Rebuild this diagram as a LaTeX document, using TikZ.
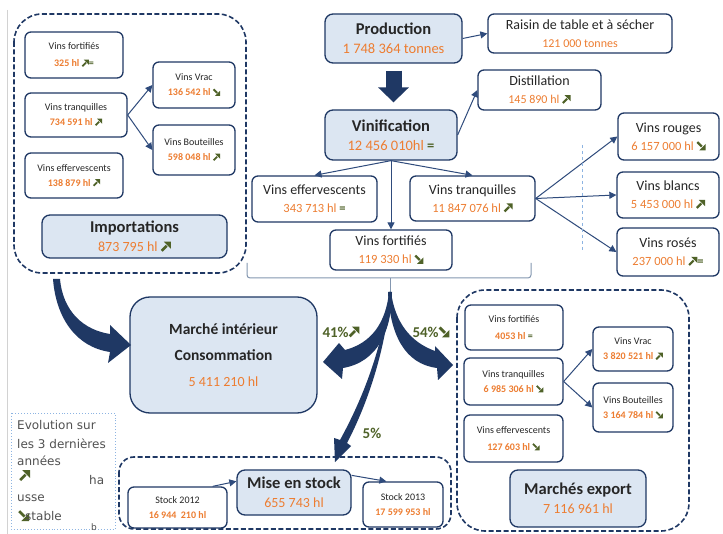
\documentclass[tikz,border=0pt]{standalone}
\usepackage{fontspec}
\setmainfont{Carlito}
\newfontfamily\legfont{DejaVu Sans}
\usetikzlibrary{arrows.meta,calc}
\definecolor{navy}{HTML}{1F3864}
\definecolor{lfill}{HTML}{DCE6F2}
\definecolor{org}{HTML}{ED7D31}
\definecolor{grn}{HTML}{4F6228}
\definecolor{txt}{HTML}{262626}
\definecolor{conn}{HTML}{2F4B7C}
\definecolor{brc}{HTML}{8497B0}
\definecolor{legc}{HTML}{8DB4E2}
\newcommand\iup{\tikz[x=0.72em,y=0.72em,baseline=0pt,sharp corners]{\fill[grn] (0,0.18)--(0.18,0)--(0.68,0.5)--(0.5,0.68)--cycle; \fill[grn] (1,1)--(0.3,1)--(1,0.3)--cycle;}}
\newcommand\idn{\tikz[x=0.72em,y=0.72em,baseline=0pt,sharp corners]{\fill[grn] (0,0.82)--(0.18,1)--(0.68,0.5)--(0.5,0.32)--cycle; \fill[grn] (1,0)--(0.3,0)--(1,0.7)--cycle;}}
\newcommand\gE{\textcolor{grn}{\bfseries =}}
\newcommand\nv[1]{\textcolor{org}{#1}}
\newcommand\nb[1]{\textcolor{org}{\bfseries #1}}
\newcommand\lgt[1]{{\legfont\fontsize{12}{14}\selectfont #1}}
\newcommand\bx[7]{\node[#6, minimum width={#4-#2}, minimum height={#5-#3}] (#1) at ({(#2+#4)/2},{(#3+#5)/2}) {#7};}
\begin{document}
\begin{tikzpicture}[x=1pt,y=-1pt,
  box/.style={draw=navy, line width=1.3pt, rounded corners=6pt, fill=white, align=center, inner sep=1pt, text=txt},
  sm/.style={box, font=\fontsize{10}{15}\selectfont},
  md/.style={box, font=\fontsize{14}{18}\selectfont},
  bigb/.style={box, fill=lfill, rounded corners=8pt, font=\fontsize{16.5}{19}\selectfont},
  dbox/.style={draw=navy, line width=1.6pt, dash pattern=on 5pt off 2.5pt, rounded corners=28pt},
  cn/.style={draw=conn, line width=1pt, -{Triangle[length=7pt,width=7pt]}},
  pct/.style={text=grn, font=\fontsize{15}{17}\selectfont\bfseries, inner sep=0},
  leg/.style={text=txt!80, anchor=base west, inner sep=0}
]
\fill[white] (0,0) rectangle (723,534);
\useasboundingbox (0,0) rectangle (723,534);
\draw[gray!35, line width=1pt] (7,10) -- (7,534);

% ---------- Importations group
\draw[dbox] (14,14) rectangle (246,273);
\bx{Lfort}{25}{32}{123}{78}{sm}{Vins fortifiés\\[2pt]\nb{325 hl} \iup\gE}
\bx{Ltran}{25}{93}{127}{137}{sm}{Vins tranquilles\\\nb{734 591 hl} \iup}
\bx{Leff}{25}{153}{123}{198}{sm}{Vins effervescents\\\nb{138 879 hl} \iup}
\bx{Lvrac}{153}{62}{235}{108}{sm}{Vins Vrac\\\nb{136 542 hl} \idn}
\bx{Lbout}{153}{125}{235}{175}{sm}{Vins Bouteilles\\\nb{598 048 hl} \iup}
\bx{Limp}{42}{215}{227}{258}{bigb}{\textbf{Importations}\\{\fontsize{14}{16}\selectfont\nv{873 795 hl} \iup}}
\draw[cn] (Ltran.east) -- (Lvrac.west);
\draw[cn] (Ltran.east) -- (Lbout.west);

% ---------- Production chain
\bx{prod}{325}{14}{462}{63}{bigb}{\textbf{Production}\\{\fontsize{14.5}{16}\selectfont\nv{1 748 364 tonnes}}}
\bx{rais}{488}{14}{672}{53}{md}{Raisin de table et à sécher\\{\fontsize{12}{14}\selectfont\nv{121 000 tonnes}}}
\bx{vin}{325}{110}{457}{160}{bigb}{\textbf{Vinification}\\{\fontsize{14.5}{16}\selectfont\nv{12 456 010hl} \gE}}
\bx{dist}{478}{70}{601}{110}{md}{Distillation\\{\fontsize{12}{14}\selectfont\nv{145 890 hl} \iup}}
\bx{Meff}{252}{176}{377}{222}{md}{Vins effervescents\\{\fontsize{12.5}{14}\selectfont\nv{343 713 hl} \gE}}
\bx{Mtran}{410}{176}{535}{221}{md}{Vins tranquilles\\{\fontsize{12.5}{14}\selectfont\nv{11 847 076 hl} \iup}}
\bx{Mfort}{330}{230}{452}{270}{md}{Vins fortifiés\\{\fontsize{12.5}{14}\selectfont\nv{119 330 hl} \idn}}
\bx{rouge}{618}{113}{719}{160}{md}{Vins rouges\\{\fontsize{12.5}{14}\selectfont\nv{6 157 000 hl} \idn}}
\bx{blanc}{617}{172}{719}{218}{md}{Vins blancs\\{\fontsize{12.5}{14}\selectfont\nv{5 453 000 hl} \iup}}
\bx{rose}{617}{228}{719}{276}{md}{Vins rosés\\{\fontsize{12.5}{14}\selectfont\nv{237 000 hl} \iup\gE}}

\draw[cn] (prod.east) -- (rais.west);
\draw[navy, line width=16pt, -{Triangle[length=15pt,width=30pt]}, shorten <=7pt, shorten >=7pt] (prod.south) -- (prod.south |- vin.north);
\draw[cn] (vin.east) -- (dist.west);
\draw[cn] (vin.south) -- (Meff.north);
\draw[cn] (vin.south) -- (Mtran.north);
\draw[cn] (vin.south) -- (Mfort.north);
\draw[cn] (Mtran.east) -- (rouge.west);
\draw[cn] (Mtran.east) -- (blanc.west);
\draw[cn] (Mtran.east) -- (rose.west);
\draw[legc, dashed, line width=0.8pt] (582,145) -- (582,250);

% brace
\coordinate (apex) at (390,292);
\draw[brc, line width=1pt, rounded corners=3pt] (247,263) -- (247,278) -- (531,278) -- (531,263);
\draw[brc, line width=1pt] (390,278) -- (apex);

% ---------- Marche interieur
\bx{march}{130}{297}{317}{413}{bigb, rounded corners=20pt, font=\fontsize{15.5}{26}\selectfont}{\textbf{Marché intérieur}\\\textbf{Consommation}\\{\fontsize{14}{16}\selectfont\nv{5 411 210 hl}}}

% big arrows
\fill[navy] (53,279) .. controls (56,318) and (76,347) .. (110,352) -- (108,363) -- (131,345) -- (110,325) -- (110,334) .. controls (84,330) and (63,312) .. (60,279) -- cycle;
\fill[navy] (389,292) .. controls (386,322) and (372,343) .. (345,350) -- (339,343) -- (323,362) -- (342,379) -- (343,368) .. controls (378,362) and (392,330) .. (392,292) -- cycle;
\fill[navy] (391,292) .. controls (395,322) and (410,342) .. (435,351) -- (435,346) -- (453,365) -- (438,380) -- (437,368) .. controls (405,364) and (390,335) .. (388,292) -- cycle;
\fill[navy] (389.5,292) .. controls (382,350) and (362,400) .. (340,440) -- (334,438) -- (335,462) -- (351,446) -- (347,443) .. controls (367,405) and (386,350) .. (390.5,292) -- cycle;
\node[pct] (p41) at (341,332) {41\%\iup};
\node[pct] (p54) at (431,332) {54\%\idn};
\node[pct] (p5) at (372,433) {5\%};

% ---------- Export group
\draw[dbox] (457,290) rectangle (689,531);
\bx{Efort}{465}{305}{563}{350}{sm}{Vins fortifiés\\[2pt]\nb{4053 hl} \gE}
\bx{Etran}{464}{358}{563}{405}{sm}{Vins tranquilles\\\nb{6 985 306 hl} \idn}
\bx{Eeff}{464}{415}{563}{462}{sm}{Vins effervescents\\[2pt]\nb{127 603 hl} \idn}
\bx{Evrac}{593}{327}{673}{371}{sm}{Vins Vrac\\\nb{3 820 521 hl} \iup}
\bx{Ebout}{593}{383}{673}{432}{sm}{Vins Bouteilles\\\nb{3 164 784 hl} \idn}
\bx{Eexp}{510}{470}{646}{527}{bigb}{\textbf{Marchés export}\\{\fontsize{14}{16}\selectfont\nv{7 116 961 hl}}}
\draw[cn] (Etran.east) -- (Evrac.west);
\draw[cn] (Etran.east) -- (Ebout.west);

% ---------- Stock group
\draw[dbox, rounded corners=15pt] (119,457) rectangle (451,529);
\bx{S12}{128}{487}{227}{528}{sm}{Stock 2012\\\nb{16 944\ \ 210 hl}}
\bx{mise}{237}{470}{351}{515}{bigb}{\textbf{Mise en stock}\\{\fontsize{14}{16}\selectfont\nv{655 743 hl}}}
\bx{S13}{363}{482}{443}{527}{sm}{Stock 2013\\\nb{17 599 953 hl}}
\draw[cn] ($(S12.north east)+(-15,0)$) -- ($(mise.north west)+(0,12)$);
\draw[cn] ($(mise.north east)+(0,6)$) -- ($(S13.north west)+(24,0)$);

% ---------- Legend
\draw[legc, dotted, line width=0.9pt] (11,413) rectangle (115,529);
\node[leg] (lg1) at (17,430) {\lgt{Evolution sur}};
\node[leg] (lg2) at (17,448) {\lgt{les 3 dernières}};
\node[leg] (lg3) at (17,465) {\lgt{années}};
\node[leg, font=\fontsize{15}{15}\selectfont] (lg4) at (19,481) {\iup};
\node[leg] (lg5) at (89,484) {\lgt{ha}};
\node[leg] (lg6) at (17,501) {\lgt{usse}};
\node[leg, font=\fontsize{15}{15}\selectfont] (lg7) at (18,521) {\idn};
\node[leg] (lg8) at (25,520) {\lgt{stable}};
\node[leg] (lg9) at (91,530) {{\legfont\fontsize{9}{10}\selectfont b}};
\end{tikzpicture}
\end{document}
